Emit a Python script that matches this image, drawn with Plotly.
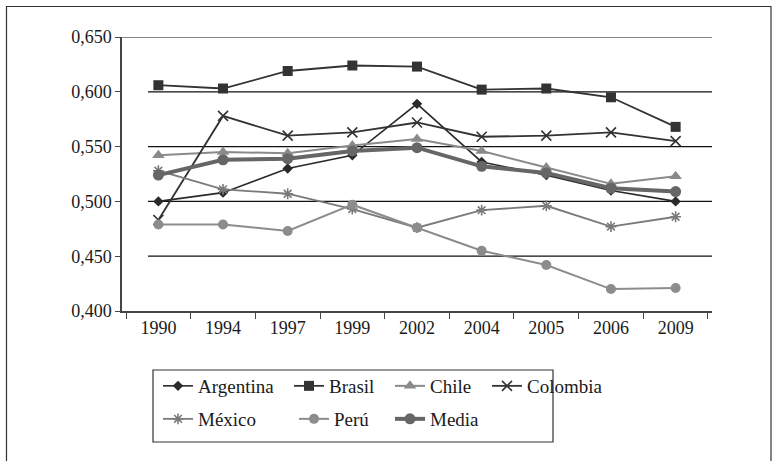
import plotly.graph_objects as go

# Survey years (categorical x axis)
years = ["1990", "1994", "1997", "1999", "2002", "2004", "2005", "2006", "2009"]

# Gini coefficient by country
argentina = [0.500, 0.508, 0.530, 0.542, 0.589, 0.536, 0.524, 0.510, 0.500]
brasil = [0.606, 0.603, 0.619, 0.624, 0.623, 0.602, 0.603, 0.595, 0.568]
chile = [0.542, 0.545, 0.544, 0.551, 0.557, 0.546, 0.531, 0.516, 0.523]
colombia = [0.483, 0.578, 0.560, 0.563, 0.572, 0.559, 0.560, 0.563, 0.555]
mexico = [0.528, 0.511, 0.507, 0.493, 0.476, 0.492, 0.496, 0.477, 0.486]
peru = [0.479, 0.479, 0.473, 0.497, 0.476, 0.455, 0.442, 0.420, 0.421]
media = [0.524, 0.538, 0.539, 0.546, 0.549, 0.532, 0.526, 0.512, 0.509]

y_ticks = [0.400, 0.450, 0.500, 0.550, 0.600, 0.650]

FONT = "Liberation Serif, Times New Roman, serif"

series = [
    # name, values, symbol, colour, line width, marker size, legend id
    ("Argentina", argentina, "diamond", "#2a2a2a", 1.6, 8, "legend"),
    ("Brasil", brasil, "square", "#333333", 1.8, 10, "legend2"),
    ("Chile", chile, "triangle-up", "#8a8a8a", 2.0, 11, "legend3"),
    ("Colombia", colombia, "x-thin-open", "#333333", 1.8, 10, "legend4"),
    ("México", mexico, "asterisk-open", "#7a7a7a", 1.8, 9, "legend5"),
    ("Perú", peru, "circle", "#8c8c8c", 2.0, 10, "legend6"),
    ("Media", media, "circle", "#666666", 4.0, 11, "legend7"),
]

fig = go.Figure()
for name, vals, sym, col, lw, ms, lg in series:
    marker = dict(symbol=sym, size=ms, color=col)
    if sym.endswith("-open"):
        marker["line"] = dict(color=col, width=1.6)
    else:
        marker["line"] = dict(width=0)
    fig.add_trace(go.Scatter(
        x=years, y=vals, name=name, mode="lines+markers",
        line=dict(color=col, width=lw), marker=marker, legend=lg,
    ))

# Plot area in pixels: x 122..712, y 37..311
W, H = 778, 461
L, R, T, B = 122, 712, 37, 311
pw, ph = R - L, B - T


def px_x(p):
    return (p - L) / pw


def px_y(p):
    return (B - p) / ph


# Horizontal reference lines
shapes = []
for v in y_ticks[1:]:
    x0 = 0 if v == y_ticks[-1] else px_x(148)
    shapes.append(dict(type="line", xref="paper", yref="y", x0=x0, x1=1.0,
                       y0=v, y1=v, line=dict(color="#111111", width=1.2),
                       layer="below"))

# Outer frame and legend frame
shapes.append(dict(type="rect", xref="paper", yref="paper",
                   x0=px_x(6.5), x1=px_x(771), y0=px_y(480), y1=px_y(6.5),
                   line=dict(color="#333333", width=1.2)))
shapes.append(dict(type="rect", xref="paper", yref="paper",
                   x0=px_x(153), x1=px_x(553), y0=px_y(442), y1=px_y(370),
                   line=dict(color="#333333", width=1.2)))

# One single-entry legend per slot, laid out as a two-row grid
slots = {
    "legend": (158, 386), "legend2": (289, 386), "legend3": (390, 386),
    "legend4": (487, 386), "legend5": (158, 419), "legend6": (294, 419),
    "legend7": (390, 419),
}
legend_layout = {}
for key, (lx, ly) in slots.items():
    legend_layout[key] = dict(
        x=px_x(lx), y=px_y(ly), xref="paper", yref="paper",
        xanchor="left", yanchor="middle", bgcolor="rgba(0,0,0,0)",
        borderwidth=0, font=dict(family=FONT, size=19, color="#1a1a1a"),
        itemwidth=30,
    )

fig.update_layout(
    width=W, height=H,
    margin=dict(l=L, r=W - R, t=T, b=H - B, pad=0),
    paper_bgcolor="white", plot_bgcolor="white",
    separators=",.",
    showlegend=True,
    font=dict(family=FONT, size=18, color="#1a1a1a"),
    shapes=shapes,
    **legend_layout,
)

fig.update_xaxes(
    type="category", showgrid=False, showline=True,
    linecolor="#444444", linewidth=1.5, ticks="outside", tickson="boundaries",
    ticklen=6, tickcolor="#444444", tickwidth=1.2,
    tickfont=dict(family=FONT, size=18, color="#1a1a1a"), zeroline=False,
)
fig.update_yaxes(
    range=[0.400, 0.650], tickvals=y_ticks, tickformat=".3f",
    showgrid=False, showline=True, linecolor="#444444", linewidth=1.5,
    ticks="outside", ticklen=5, tickcolor="#444444", tickwidth=1.2,
    tickfont=dict(family=FONT, size=18, color="#1a1a1a"), zeroline=False,
)

fig.write_html("out.html")
